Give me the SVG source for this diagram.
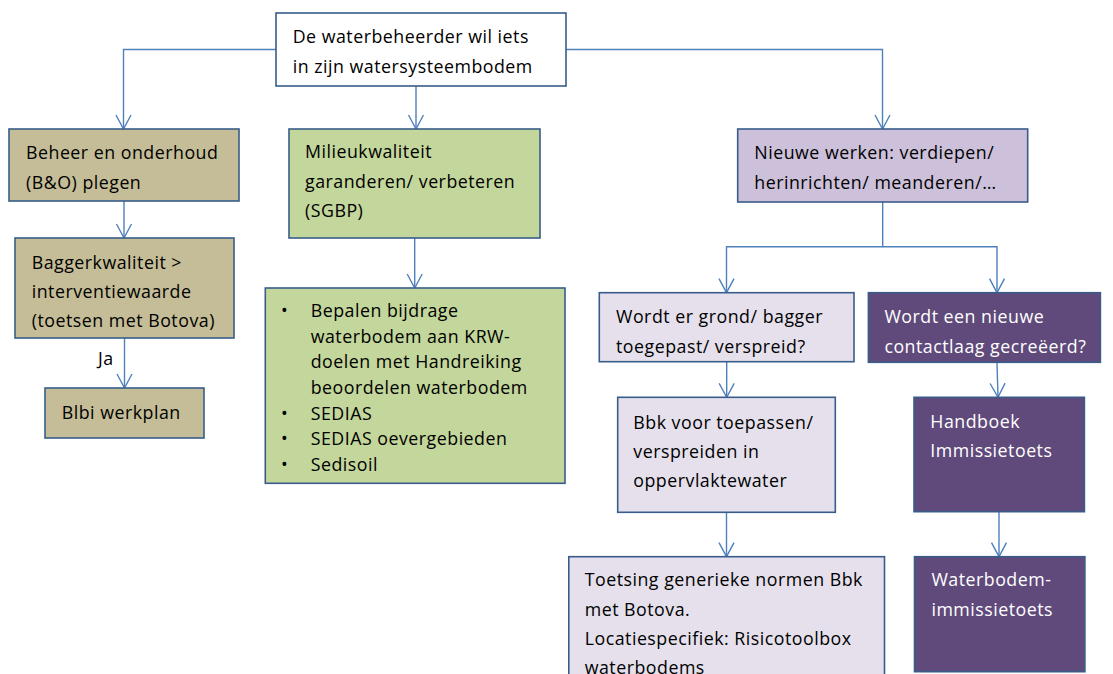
<svg xmlns="http://www.w3.org/2000/svg" width="1113" height="674" viewBox="0 0 1113 674">
<style>
.box{stroke:#385d8a;stroke-width:1.6}
.t{font-family:"Open Sans","Liberation Sans",sans-serif;font-size:17.8px;fill:#000;letter-spacing:0.5px}
.w{fill:#ffffff}
.c{fill:none;stroke:#4f81bd;stroke-width:1.4}
</style>
<defs>
<marker id="arr" markerWidth="16" markerHeight="16" refX="0" refY="0" orient="auto" markerUnits="userSpaceOnUse" overflow="visible">
<path d="M-14,-7.5 L0,0 L-14,7.5" fill="none" stroke="#4f81bd" stroke-width="1.4"/>
</marker>
</defs>
<rect width="1113" height="674" fill="#ffffff"/>
<g id="connectors">
<path class="c" d="M276,49.5 H123.5 V129" marker-end="url(#arr)"/>
<path class="c" d="M416,86 V129" marker-end="url(#arr)"/>
<path class="c" d="M566,49.5 H882.5 V129" marker-end="url(#arr)"/>
<path class="c" d="M124,201 V238" marker-end="url(#arr)"/>
<path class="c" d="M124.5,338 V388" marker-end="url(#arr)"/>
<path class="c" d="M414.7,238 V288" marker-end="url(#arr)"/>
<path class="c" d="M882.7,202 V246.7 H726.5 V292.7" marker-end="url(#arr)"/>
<path class="c" d="M882.7,246.7 H997 V292.7" marker-end="url(#arr)"/>
<path class="c" d="M726.7,361.7 V397.3" marker-end="url(#arr)"/>
<path class="c" d="M997,362.3 L998,397.3" marker-end="url(#arr)"/>
<path class="c" d="M726.5,512.3 V556.7" marker-end="url(#arr)"/>
<path class="c" d="M999,511.7 V556.7" marker-end="url(#arr)"/>
<text class="t" x="98" y="365">Ja</text>
</g>
<g id="top">
<rect class="box" x="276" y="13" width="290" height="73" fill="#ffffff"/>
<text class="t" x="292.7" y="43.3">De waterbeheerder wil iets</text>
<text class="t" x="292.7" y="73.3">in zijn watersysteembodem</text>
</g>
<g id="beheer">
<rect class="box" x="9" y="129" width="230" height="72" fill="#c4bd97"/>
<text class="t" x="26" y="158.7">Beheer en onderhoud</text>
<text class="t" x="26" y="189.3">(B&amp;O) plegen</text>
</g>
<g id="bagger">
<rect class="box" x="15" y="238" width="219" height="100" fill="#c4bd97"/>
<text class="t" x="31.7" y="268.7">Baggerkwaliteit &gt;</text>
<text class="t" x="31.7" y="297.7">interventiewaarde</text>
<text class="t" x="31.7" y="326.7">(toetsen met Botova)</text>
</g>
<g id="blbi">
<rect class="box" x="45" y="388" width="159" height="50" fill="#c4bd97"/>
<text class="t" x="61.7" y="418.5">Blbi werkplan</text>
</g>
<g id="milieu">
<rect class="box" x="289" y="129" width="251" height="109" fill="#c3d69b"/>
<text class="t" x="305" y="158.3">Milieukwaliteit</text>
<text class="t" x="305" y="188.3">garanderen/ verbeteren</text>
<text class="t" x="305" y="217.3">(SGBP)</text>
</g>
<g id="lijst">
<rect class="box" x="265.3" y="288" width="299.7" height="195.3" fill="#c3d69b"/>
<text class="t" x="281" y="316.7">•</text>
<text class="t" x="310.7" y="316.7">Bepalen bijdrage</text>
<text class="t" x="310.7" y="342.5">waterbodem aan KRW-</text>
<text class="t" x="310.7" y="368.3">doelen met Handreiking</text>
<text class="t" x="310.7" y="394">beoordelen waterbodem</text>
<text class="t" x="281" y="419.5">•</text>
<text class="t" x="310.7" y="419.5">SEDIAS</text>
<text class="t" x="281" y="445">•</text>
<text class="t" x="310.7" y="445">SEDIAS oevergebieden</text>
<text class="t" x="281" y="471">•</text>
<text class="t" x="310.7" y="471">Sedisoil</text>
</g>
<g id="nieuwe">
<rect class="box" x="737.7" y="129" width="290" height="73" fill="#ccc0da"/>
<text class="t" x="754.3" y="159.3">Nieuwe werken: verdiepen/</text>
<text class="t" x="754.3" y="189.3">herinrichten/ meanderen/…</text>
</g>
<g id="grond">
<rect class="box" x="599.3" y="292.7" width="254.7" height="69" fill="#e5e0ec"/>
<text class="t" x="616" y="322.7">Wordt er grond/ bagger</text>
<text class="t" x="616" y="352.7">toegepast/ verspreid?</text>
</g>
<g id="contactlaag">
<rect class="box" x="868.4" y="292.7" width="232" height="69.6" fill="#604a7b"/>
<text class="t w" x="884.4" y="323.3">Wordt een nieuwe</text>
<text class="t w" x="884.4" y="352.7">contactlaag gecreëerd?</text>
</g>
<g id="bbk">
<rect class="box" x="617.7" y="397.3" width="217.6" height="115" fill="#e5e0ec"/>
<text class="t" x="633.3" y="429">Bbk voor toepassen/</text>
<text class="t" x="633.3" y="458">verspreiden in</text>
<text class="t" x="633.3" y="487">oppervlaktewater</text>
</g>
<g id="handboek">
<rect class="box" x="914" y="397.3" width="170.4" height="114.4" fill="#604a7b"/>
<text class="t w" x="930.3" y="427.7">Handboek</text>
<text class="t w" x="930.3" y="457.3">Immissietoets</text>
</g>
<g id="toetsing">
<rect class="box" x="568.8" y="556.7" width="315.7" height="130" fill="#e5e0ec"/>
<text class="t" x="584.7" y="586">Toetsing generieke normen Bbk</text>
<text class="t" x="584.7" y="616">met Botova.</text>
<text class="t" x="584.7" y="645.3">Locatiespecifiek: Risicotoolbox</text>
<text class="t" x="584.7" y="674">waterbodems</text>
</g>
<g id="waterbodem">
<rect class="box" x="914.5" y="556.7" width="170.4" height="115" fill="#604a7b"/>
<text class="t w" x="931.4" y="586">Waterbodem-</text>
<text class="t w" x="931.4" y="616">immissietoets</text>
</g>
</svg>
